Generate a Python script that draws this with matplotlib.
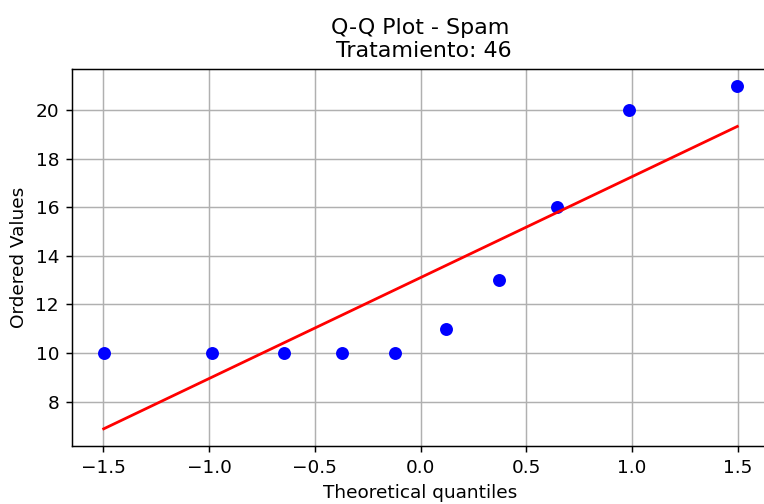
import numpy as np
import matplotlib
matplotlib.use("Agg")
import matplotlib.pyplot as plt

# Normal-probability plot for one treatment group
theoretical_q = [-1.4985, -0.9848, -0.6470, -0.3714, -0.1213,
                 0.1213, 0.3714, 0.6470, 0.9848, 1.4985]
ordered_vals = [10, 10, 10, 10, 10, 11, 13, 16, 20, 21]

x = np.array(theoretical_q)
y = np.array(ordered_vals)
slope, intercept = np.polyfit(x, y, 1)

DPI = 133
fig = plt.figure(figsize=(764 / DPI, 504 / DPI), dpi=DPI)
# right edge runs slightly past the canvas
ax = fig.add_axes([72 / 764, 58 / 504, 697 / 764, 377.5 / 504])

ax.plot(x, y, 'bo')
ax.plot(x, slope * x + intercept, 'r-')

ax.set_title("Q-Q Plot - Spam\n Tratamiento: 46")
ax.set_xlabel("Theoretical quantiles")
ax.set_ylabel("Ordered Values")
ax.grid(True)

fig.savefig("out.png", dpi=DPI)
